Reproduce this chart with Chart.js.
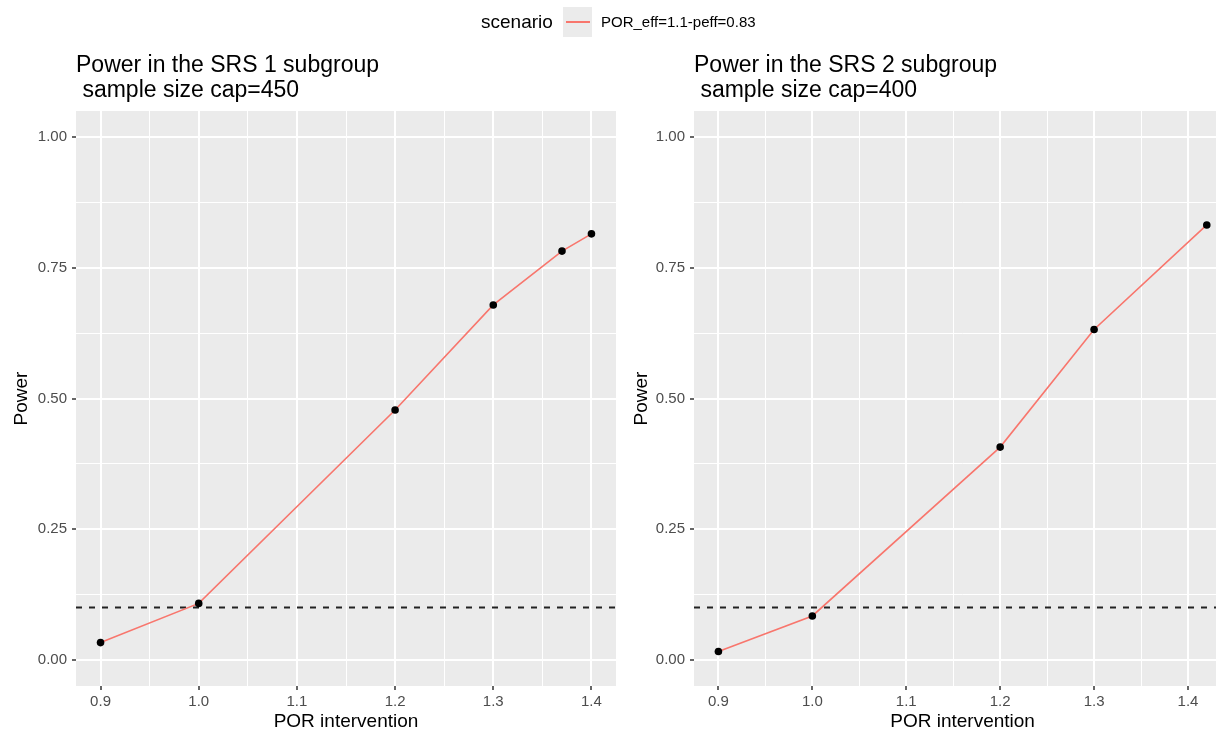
<!DOCTYPE html>
<html>
<head>
<meta charset="utf-8">
<script src="https://cdn.jsdelivr.net/npm/chart.js@4.4.1/dist/chart.umd.min.js"></script>
<style>
  html, body { margin: 0; padding: 0; background: #fff; overflow: hidden; width: 1216px; height: 733px; }
  #wrap { position: relative; width: 1216px; height: 733px; overflow: hidden; font-family: "Liberation Sans", Arial, sans-serif; }
  canvas { position: absolute; top: 0; }
  #c1 { left: 0; }
  #c2 { left: 620px; }
  .lg-title { position: absolute; left: 481px; top: 10px; font-size: 19px; line-height: 24px; color: #000; }
  .lg-key { position: absolute; left: 563px; top: 7px; width: 29px; height: 30px; background: #EBEBEB; }
  .lg-line { position: absolute; left: 3px; top: 14px; width: 24px; height: 1.6px; }
  .lg-label { position: absolute; left: 601px; top: 12px; font-size: 15px; line-height: 20px; color: #000; }
</style>
</head>
<body>
<div id="wrap">
  <canvas id="c1" width="620" height="733"></canvas>
  <canvas id="c2" width="615" height="733"></canvas>
  <div class="lg-title">scenario</div>
  <div class="lg-key"><div class="lg-line" id="lgline"></div></div>
  <div class="lg-label" id="lglabel"></div>
</div>
<script>
// ---- Data ----
const legendTitle = 'scenario';
const seriesName = 'POR_eff=1.1-peff=0.83';
const seriesColor = '#F8766D';

const panel1Title = ['Power in the SRS 1 subgroup', ' sample size cap=450'];
const panel1X = [0.9, 1.0, 1.2, 1.3, 1.37, 1.4];
const panel1Y = [0.033, 0.108, 0.478, 0.679, 0.782, 0.815];

const panel2Title = ['Power in the SRS 2 subgroup', ' sample size cap=400'];
const panel2X = [0.9, 1.0, 1.2, 1.3, 1.42];
const panel2Y = [0.016, 0.084, 0.407, 0.632, 0.832];

const thresholdPower = 0.1;

const yTicksMajor = [0, 0.25, 0.5, 0.75, 1.0];
const yTickLabels = ['0.00', '0.25', '0.50', '0.75', '1.00'];
const xTicksMajor = [0.9, 1.0, 1.1, 1.2, 1.3, 1.4];
const xTickLabels = ['0.9', '1.0', '1.1', '1.2', '1.3', '1.4'];

const xAxisTitle = 'POR intervention';
const yAxisTitle = 'Power';

// ---- Legend (HTML) ----
document.getElementById('lgline').style.background = seriesColor;
document.getElementById('lglabel').textContent = seriesName;
document.querySelector('.lg-title').textContent = legendTitle;

// ---- helpers ----
const FONT = '"Liberation Sans", Arial, sans-serif';

function withMinor(major, step) {
  const out = [];
  for (let i = 0; i < major.length; i++) {
    out.push({ value: major[i] });
    out.push({ value: major[i] + step / 2 });
  }
  out.unshift({ value: major[0] - step / 2 });
  return out;
}

const bgPlugin = {
  id: 'panelBg',
  beforeDraw(chart) {
    const { ctx, chartArea: a } = chart;
    ctx.save();
    ctx.fillStyle = '#EBEBEB';
    ctx.fillRect(a.left, a.top, a.right - a.left, a.bottom - a.top);
    ctx.restore();
  }
};

const hlinePlugin = {
  id: 'hline',
  beforeDatasetsDraw(chart) {
    const { ctx, chartArea: a, scales } = chart;
    const y = scales.y.getPixelForValue(thresholdPower);
    ctx.save();
    ctx.beginPath();
    ctx.rect(a.left, a.top, a.right - a.left, a.bottom - a.top);
    ctx.clip();
    ctx.strokeStyle = '#222';
    ctx.lineWidth = 2;
    ctx.setLineDash([6, 7]);
    ctx.beginPath();
    ctx.moveTo(a.left, y);
    ctx.lineTo(a.right, y);
    ctx.stroke();
    ctx.restore();
  }
};

function makeChart(canvasId, title, xs, ys, xMin, xMax, yAxisWidth, padRight) {
  const xTickObjs = withMinor(xTicksMajor, 0.1).filter(t => t.value >= xMin && t.value <= xMax);
  const yTickObjs = withMinor(yTicksMajor, 0.25).filter(t => t.value >= -0.05 && t.value <= 1.05);
  const isMajor = (list, v) => list.some(m => Math.abs(m - v) < 1e-9);

  return new Chart(document.getElementById(canvasId), {
    type: 'line',
    data: {
      datasets: [{
        label: seriesName,
        data: xs.map((x, i) => ({ x: x, y: ys[i] })),
        borderColor: seriesColor,
        borderWidth: 1.6,
        pointRadius: 3.8,
        pointBackgroundColor: '#000',
        pointBorderWidth: 0,
        pointHoverRadius: 3.8,
        tension: 0,
        fill: false
      }]
    },
    options: {
      responsive: false,
      animation: false,
      events: [],
      layout: { padding: { left: 0, right: padRight, top: 0, bottom: 0 } },
      plugins: {
        legend: { display: false },
        tooltip: { enabled: false },
        title: {
          display: true,
          text: title,
          align: 'start',
          fullSize: false,
          color: '#000',
          font: { family: FONT, size: 23, weight: 'normal', lineHeight: 1.05 },
          padding: { top: 54, bottom: 8.7 }
        }
      },
      scales: {
        x: {
          type: 'linear',
          min: xMin,
          max: xMax,
          afterBuildTicks(scale) { scale.ticks = xTickObjs.map(t => ({ value: t.value })); },
          afterFit(scale) { scale.height = 47; },
          border: { display: false },
          grid: {
            color: '#FFFFFF',
            lineWidth: ctx => isMajor(xTicksMajor, ctx.tick.value) ? 2 : 1,
            tickColor: ctx => isMajor(xTicksMajor, ctx.tick.value) ? '#333333' : 'rgba(0,0,0,0)',
            tickLength: 4,
            tickWidth: 1.5,
            drawTicks: true
          },
          ticks: {
            autoSkip: false,
            maxRotation: 0,
            minRotation: 0,
            padding: 3,
            color: '#4D4D4D',
            font: { family: FONT, size: 15 },
            callback(value) {
              const idx = xTicksMajor.findIndex(m => Math.abs(m - value) < 1e-9);
              return idx >= 0 ? xTickLabels[idx] : '';
            }
          },
          title: {
            display: true,
            text: xAxisTitle,
            color: '#000',
            font: { family: FONT, size: 19 },
            padding: { top: 0, bottom: 0 }
          }
        },
        y: {
          type: 'linear',
          min: -0.05,
          max: 1.05,
          afterBuildTicks(scale) { scale.ticks = yTickObjs.map(t => ({ value: t.value })); },
          afterFit(scale) { scale.width = yAxisWidth; },
          border: { display: false },
          grid: {
            color: '#FFFFFF',
            lineWidth: ctx => isMajor(yTicksMajor, ctx.tick.value) ? 2 : 1,
            tickColor: ctx => isMajor(yTicksMajor, ctx.tick.value) ? '#333333' : 'rgba(0,0,0,0)',
            tickLength: 4,
            tickWidth: 1.5,
            drawTicks: true
          },
          ticks: {
            autoSkip: false,
            padding: 5,
            color: '#4D4D4D',
            font: { family: FONT, size: 15 },
            callback(value) {
              const idx = yTicksMajor.findIndex(m => Math.abs(m - value) < 1e-9);
              return idx >= 0 ? yTickLabels[idx] : '';
            }
          },
          title: {
            display: true,
            text: yAxisTitle,
            color: '#000',
            font: { family: FONT, size: 19 },
            padding: { top: 10, bottom: 0 }
          }
        }
      }
    },
    plugins: [bgPlugin, hlinePlugin]
  });
}

makeChart('c1', panel1Title, panel1X, panel1Y, 0.875, 1.425, 76, 4);
makeChart('c2', panel2Title, panel2X, panel2Y, 0.874, 1.446, 74, 0);
</script>
</body>
</html>
